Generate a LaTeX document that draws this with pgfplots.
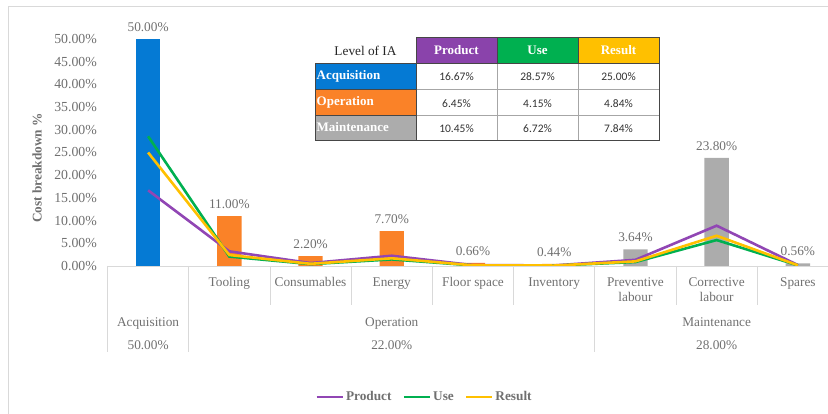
\documentclass[border=0pt]{standalone}
\usepackage{pgfplots}
\pgfplotsset{compat=1.18}
\usepackage{fontspec}
\setmainfont{Liberation Serif}
\newfontfamily\carlito{Carlito}
\definecolor{cblue}{RGB}{5,122,212}
\definecolor{corange}{RGB}{250,130,40}
\definecolor{cgray}{RGB}{172,172,172}
\definecolor{cpurple}{RGB}{145,70,180}
\definecolor{cgreen}{RGB}{0,176,80}
\definecolor{cyellow}{RGB}{255,192,0}
\definecolor{tgray}{RGB}{112,112,112}
\definecolor{gridc}{RGB}{217,217,217}
\definecolor{tabline}{RGB}{70,70,70}
\tikzset{
  glab/.style={text=tgray, font=\fontsize{13.3}{14}\selectfont, anchor=base},
  gline/.style={gridc, line width=0.8pt},
}
\begin{document}
\begin{tikzpicture}
\clip (0pt,0pt) rectangle (828pt,414pt);
\draw[gray!30, line width=0.8pt] (8pt,-5pt) rectangle (845pt,408pt);
\begin{axis}[
  at={(107.5pt,148pt)}, anchor=south west,
  scale only axis, width=731pt, height=227pt,
  xmin=-0.5, xmax=8.5, ymin=0, ymax=50,
  clip=false,
  axis line style={draw=none},
  tick style={draw=none},
  /pgf/number format/assume math mode=true,
  ytick={0,5,...,50},
  yticklabel={\pgfmathprintnumber[fixed,fixed zerofill,precision=2]{\tick}\%},
  yticklabel style={inner sep=0pt, xshift=-10.5pt, text=tgray, font=\fontsize{13.8}{14}\selectfont},
  xtick={0,1,2,3,4,5,6,7,8},
  xticklabels={{},Tooling,Consumables,Energy,Floor space,Inventory,Preventive\\labour,Corrective\\labour,Spares},
  xticklabel style={anchor=north, inner sep=0pt, yshift=-11.5pt, align=center, text=tgray, font=\fontsize{13.3}{14.5}\selectfont},
  legend columns=3,
  legend style={draw=none, fill=none, at={(0.4337,-0.577)}, anchor=center,
    font=\bfseries\fontsize{13.3}{14}\selectfont, text=tgray,
    /tikz/every even column/.append style={column sep=9pt}},
  legend image code/.code={\draw[#1] (0pt,0pt) -- (26pt,0pt);},
  every node near coord/.append style={text=tgray, font=\fontsize{13.3}{14}\selectfont, anchor=south, inner sep=2pt, yshift=5.5pt},
]
% bars
\addplot[ybar, bar shift=0pt, bar width=0.3, fill=cblue, draw=none, forget plot,
  nodes near coords={\pgfmathprintnumber[fixed,fixed zerofill,precision=2]{\pgfplotspointmeta}\%}]
  coordinates {(0,50)};
\addplot[ybar, bar shift=0pt, bar width=0.3, fill=corange, draw=none, forget plot,
  nodes near coords={\pgfmathprintnumber[fixed,fixed zerofill,precision=2]{\pgfplotspointmeta}\%}]
  coordinates {(1,11) (2,2.2) (3,7.7) (4,0.66) (5,0.44)};
\addplot[ybar, bar shift=0pt, bar width=0.3, fill=cgray, draw=none, forget plot,
  nodes near coords={\pgfmathprintnumber[fixed,fixed zerofill,precision=2]{\pgfplotspointmeta}\%}]
  coordinates {(6,3.64) (7,23.8) (8,0.56)};
% lines
\addplot[cpurple, line width=2.6pt, no markers, sharp plot] coordinates {
 (0,16.67) (1,3.225) (2,0.645) (3,2.2575) (4,0.1935) (5,0.129) (6,1.3585) (7,8.8825) (8,0.209)};
\addlegendentry{Product}
\addplot[cgreen, line width=2.6pt, no markers, sharp plot] coordinates {
 (0,28.57) (1,2.075) (2,0.415) (3,1.4525) (4,0.1245) (5,0.083) (6,0.8736) (7,5.712) (8,0.1344)};
\addlegendentry{Use}
\addplot[cyellow, line width=2.6pt, no markers, sharp plot] coordinates {
 (0,25.00) (1,2.42) (2,0.484) (3,1.694) (4,0.1452) (5,0.0968) (6,1.0192) (7,6.664) (8,0.1568)};
\addlegendentry{Result}
% category grid
\draw[gline] (axis cs:-0.5,0) -- (axis cs:8.5,0);
\draw[gline] (axis cs:-0.5,0) -- ([yshift=-86pt]axis cs:-0.5,0);
\draw[gline] (axis cs:0.5,0) -- ([yshift=-86pt]axis cs:0.5,0);
\draw[gline] (axis cs:5.5,0) -- ([yshift=-86pt]axis cs:5.5,0);
\draw[gline] (axis cs:8.5,0) -- ([yshift=-86pt]axis cs:8.5,0);
\draw[gline] (axis cs:1.5,0) -- ([yshift=-39pt]axis cs:1.5,0);
\draw[gline] (axis cs:2.5,0) -- ([yshift=-39pt]axis cs:2.5,0);
\draw[gline] (axis cs:3.5,0) -- ([yshift=-39pt]axis cs:3.5,0);
\draw[gline] (axis cs:4.5,0) -- ([yshift=-39pt]axis cs:4.5,0);
\draw[gline] (axis cs:6.5,0) -- ([yshift=-39pt]axis cs:6.5,0);
\draw[gline] (axis cs:7.5,0) -- ([yshift=-39pt]axis cs:7.5,0);
% group labels
\node[glab] at ([yshift=-61pt]axis cs:0,0) {Acquisition};
\node[glab] at ([yshift=-84pt]axis cs:0,0) {50.00\%};
\node[glab] at ([yshift=-61pt]axis cs:3,0) {Operation};
\node[glab] at ([yshift=-84pt]axis cs:3,0) {22.00\%};
\node[glab] at ([yshift=-61pt]axis cs:7,0) {Maintenance};
\node[glab] at ([yshift=-84pt]axis cs:7,0) {28.00\%};
\end{axis}
% y label
\node[rotate=90, text=tgray, font=\bfseries\fontsize{13.3}{14}\selectfont] at (37pt,246pt) {Cost breakdown \%};
% table
\fill[cpurple!95!black] (416pt,351pt) rectangle (497pt,377pt);
\fill[cgreen] (497pt,351pt) rectangle (578pt,377pt);
\fill[cyellow] (578pt,351pt) rectangle (659pt,377pt);
\fill[cblue] (315pt,325pt) rectangle (416pt,351pt);
\fill[corange] (315pt,299pt) rectangle (416pt,325pt);
\fill[cgray] (315pt,274pt) rectangle (416pt,299pt);
\foreach \yy in {325,299} {\draw[gray!70, line width=0.6pt] (416pt,\yy pt) -- (659pt,\yy pt);}
\foreach \xx in {497,578} {\draw[gray!70, line width=0.6pt] (\xx pt,274pt) -- (\xx pt,351pt);}
\draw[tabline, line width=0.8pt] (416pt,274pt) -- (416pt,377pt) -- (659pt,377pt) -- (659pt,274pt) -- (315pt,274pt) -- (315pt,351pt) -- (659pt,351pt);
\draw[tabline, line width=0.6pt] (497pt,351pt) -- (497pt,377pt) (578pt,351pt) -- (578pt,377pt) (315pt,325pt) -- (416pt,325pt) (315pt,299pt) -- (416pt,299pt);
\node[font=\fontsize{13.3}{14}\selectfont, text=black!85] at (365.5pt,363.5pt) {Level of IA};
\node[font=\bfseries\fontsize{13}{14}\selectfont, text=white] at (456.5pt,364pt) {Product};
\node[font=\bfseries\fontsize{13}{14}\selectfont, text=white] at (537.5pt,364pt) {Use};
\node[font=\bfseries\fontsize{13}{14}\selectfont, text=white] at (618.5pt,364pt) {Result};
\node[anchor=west, inner sep=0pt, font=\bfseries\fontsize{13}{14}\selectfont, text=white] at (316.5pt,338pt) {Acquisition};
\node[anchor=west, inner sep=0pt, font=\bfseries\fontsize{13}{14}\selectfont, text=white] at (316.5pt,312pt) {Operation};
\node[anchor=west, inner sep=0pt, font=\bfseries\fontsize{13}{14}\selectfont, text=white] at (316.5pt,287pt) {Maintenance};
\foreach \xx/\a/\b/\c in {456.5/16.67/6.45/10.45, 537.5/28.57/4.15/6.72, 618.5/25.00/4.84/7.84} {
  \node[font=\carlito\fontsize{11.5}{13}\selectfont, text=black!80] at (\xx pt,337pt) {\a\%};
  \node[font=\carlito\fontsize{11.5}{13}\selectfont, text=black!80] at (\xx pt,310pt) {\b\%};
  \node[font=\carlito\fontsize{11.5}{13}\selectfont, text=black!80] at (\xx pt,285pt) {\c\%};
}
\end{tikzpicture}
\end{document}
